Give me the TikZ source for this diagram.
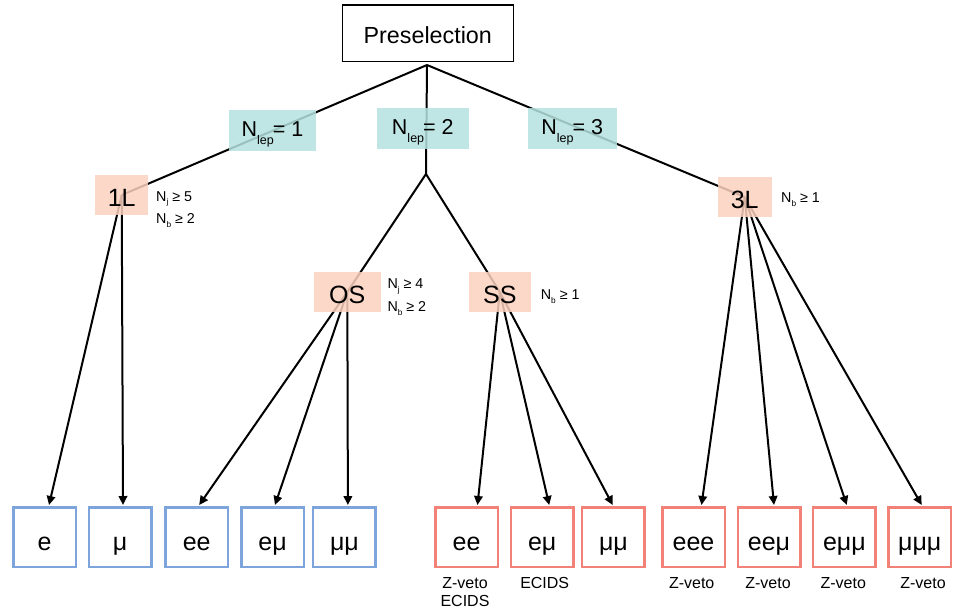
\documentclass[tikz,border=0pt]{standalone}
\usepackage{fontspec}
\setmainfont{Liberation Sans}
\usetikzlibrary{arrows.meta}
\pgfdeclarelayer{bg}
\pgfsetlayers{bg,main}
\definecolor{tealfill}{RGB}{180,226,223}
\definecolor{pinkfill}{RGB}{251,209,190}
\definecolor{blueedge}{RGB}{125,165,220}
\definecolor{rededge}{RGB}{242,130,120}
\newcommand{\fs}[1]{\fontsize{#1}{#1}\selectfont}
\newcommand{\mysub}[3]{\raisebox{-#2pt}{\fs{#1}#3}}
\begin{document}
\begin{tikzpicture}[x=1pt,y=-1pt,
  presel/.style={draw=black, line width=1.4pt, minimum width=171pt, minimum height=56.7pt, inner sep=0pt, font=\fs{23.3}, text height=20pt, text depth=0pt},
  nlep/.style={fill=tealfill, fill opacity=0.85, text opacity=1, minimum height=40.7pt, inner sep=0pt, font=\fs{21.5}, text height=12pt, text depth=0pt},
  cat/.style={fill=pinkfill, fill opacity=0.85, text opacity=1, minimum height=40pt, inner sep=0pt, font=\fs{25}, text height=23.5pt, text depth=0pt},
  fin/.style={minimum width=62.5pt, minimum height=59.5pt, line width=2.5pt, inner sep=0pt, font=\fs{25}, text height=26pt, text depth=0pt},
  finb/.style={fin, draw=blueedge},
  finr/.style={fin, draw=rededge},
  cond/.style={anchor=base west, inner sep=0pt, font=\fs{14.3}},
  note/.style={anchor=base, inner sep=0pt, font=\fs{16}},
  conn/.style={line width=2pt, black},
  arr/.style={conn, -{Triangle[length=9pt,width=8.5pt]}}
]
\useasboundingbox (0,0) rectangle (957,614);

% top
\node[presel] (pre) at (427.8,33.3) {Preselection};
\coordinate (top) at (427,65);
\coordinate (split) at (426,174);

% N_lep boxes
\node[nlep, minimum width=87pt] (n1) at (272.5,130.3) {N\mysub{12.5}{8}{lep}\kern-1pt= 1};
\node[nlep, minimum width=92.3pt] (n2) at (422.8,128.7) {N\mysub{12.5}{8}{lep}\kern-1pt= 2};
\node[nlep, minimum width=89pt] (n3) at (572.2,128.7) {N\mysub{12.5}{8}{lep}\kern-1pt= 3};

% categories
\node[cat, minimum width=53pt] (L1) at (121.7,195) {1L};
\node[cat, minimum width=66.7pt] (OS) at (347.3,292) {OS};
\node[cat, minimum width=61.7pt] (SS) at (499.8,292) {SS};
\node[cat, minimum width=54pt] (L3) at (744.7,197) {3L};

% conditions
\node[cond] (c1a) at (156,201) {N\mysub{8.3}{3.8}{j} ≥ 5};
\node[cond] (c1b) at (156,223.3) {N\mysub{8.3}{3.8}{b} ≥ 2};
\node[cond] (c2a) at (387.3,288.3) {N\mysub{8.3}{3.8}{j} ≥ 4};
\node[cond] (c2b) at (387.3,311.7) {N\mysub{8.3}{3.8}{b} ≥ 2};
\node[cond] (c3) at (540.7,299.3) {N\mysub{8.3}{3.8}{b} ≥ 1};
\node[cond] (c4) at (781,202.7) {N\mysub{8.3}{3.8}{b} ≥ 1};

% final boxes
\node[finb] (e1) at (44.5,537) {e};
\node[finb] (m1) at (120.2,537) {μ};
\node[finb] (ee2) at (196.7,537) {ee};
\node[finb] (em2) at (272.5,537) {eμ};
\node[finb] (mm2) at (344.4,537) {μμ};
\node[finr] (ee3) at (466.5,537) {ee};
\node[finr] (em3) at (542.2,537) {eμ};
\node[finr] (mm3) at (613.4,537) {μμ};
\node[finr] (eee) at (693.5,537) {eee};
\node[finr] (eem) at (769,537) {eeμ};
\node[finr] (emm) at (844.4,537) {eμμ};
\node[finr] (mmm) at (919.7,537) {μμμ};

% notes
\node[note] (z1) at (465,588.3) {Z-veto};
\node[note] (i1) at (465,606.7) {ECIDS};
\node[note] (i2) at (544.7,588.3) {ECIDS};
\node[note] (z2) at (691.7,588.3) {Z-veto};
\node[note] (z3) at (768,588.3) {Z-veto};
\node[note] (z4) at (843.3,588.3) {Z-veto};
\node[note] (z5) at (923,588.3) {Z-veto};

\begin{pgfonlayer}{bg}
\draw[conn] (top) -- (L1.center);
\draw[conn] (top) -- (split);
\draw[conn] (top) -- (L3.center);
\draw[conn] (split) -- (OS.center);
\draw[conn] (split) -- (SS.center);
\draw[arr] (L1.center) -- ([xshift=4.5pt,yshift=1pt]e1.north);
\draw[arr] (L1.center) -- ([xshift=2.8pt,yshift=1pt]m1.north);
\draw[arr] (OS.center) -- ([xshift=2.5pt,yshift=1pt]ee2.north);
\draw[arr] (OS.center) -- ([xshift=2.5pt,yshift=1pt]em2.north);
\draw[arr] (OS.center) -- ([xshift=3.5pt,yshift=1pt]mm2.north);
\draw[arr] (SS.center) -- ([xshift=11pt,yshift=1pt]ee3.north);
\draw[arr] (SS.center) -- ([xshift=7pt,yshift=1pt]em3.north);
\draw[arr] (SS.center) -- ([xshift=-0.7pt,yshift=1pt]mm3.north);
\draw[arr] (L3.center) -- ([xshift=8pt,yshift=1pt]eee.north);
\draw[arr] (L3.center) -- ([xshift=5pt,yshift=1pt]eem.north);
\draw[arr] (L3.center) -- ([xshift=2.3pt,yshift=1pt]emm.north);
\draw[arr] (L3.center) -- ([xshift=2pt,yshift=1pt]mmm.north);
\end{pgfonlayer}
\end{tikzpicture}
\end{document}
